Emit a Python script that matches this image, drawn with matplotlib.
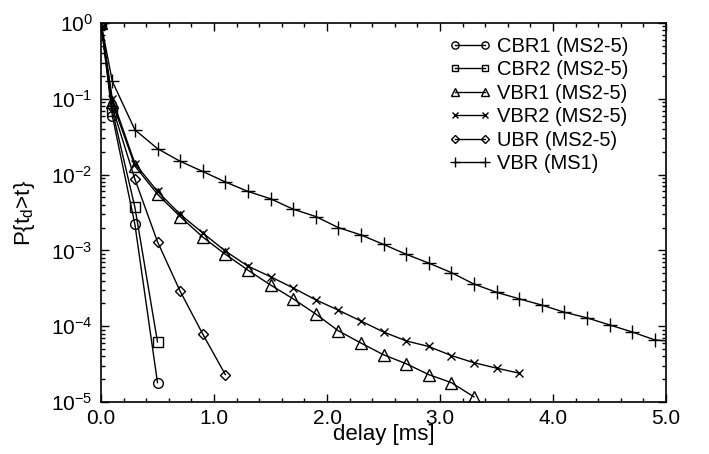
import numpy as np
import matplotlib
matplotlib.use('Agg')
import matplotlib.pyplot as plt
from matplotlib.ticker import MultipleLocator, LogLocator

plt.rcParams['font.family'] = ['Liberation Sans', 'DejaVu Sans']
plt.rcParams['mathtext.default'] = 'regular'

# delay [ms] and P{td>t}
cbr1_x = [0.0, 0.1, 0.3, 0.5]
cbr1_y = [1.0, 0.060, 0.0022, 1.8e-5]

cbr2_x = [0.0, 0.1, 0.3, 0.5]
cbr2_y = [1.0, 0.070, 0.0037, 6.2e-5]

vbr1_x = [0.0, 0.1, 0.3, 0.5, 0.7, 0.9, 1.1, 1.3, 1.5, 1.7, 1.9, 2.1, 2.3, 2.5, 2.7, 2.9, 3.1, 3.3]
vbr1_y = [1.0, 0.090, 0.013, 0.0055, 0.0028, 0.0015, 8.9e-4, 5.5e-4, 3.5e-4, 2.3e-4,
          1.45e-4, 8.7e-5, 6.0e-5, 4.2e-5, 3.2e-5, 2.3e-5, 1.8e-5, 1.17e-5]

vbr2_x = [0.0, 0.1, 0.3, 0.5, 0.7, 0.9, 1.1, 1.3, 1.5, 1.7, 1.9, 2.1, 2.3, 2.5, 2.7, 2.9, 3.1, 3.3, 3.5, 3.7]
vbr2_y = [1.0, 0.100, 0.014, 0.0060, 0.0030, 0.0017, 9.8e-4, 6.2e-4, 4.5e-4, 3.2e-4,
          2.23e-4, 1.63e-4, 1.17e-4, 8.4e-5, 6.4e-5, 5.4e-5, 4.1e-5, 3.3e-5, 2.8e-5, 2.4e-5]

ubr_x = [0.0, 0.1, 0.3, 0.5, 0.7, 0.9, 1.1]
ubr_y = [1.0, 0.078, 0.0087, 0.0013, 2.9e-4, 7.9e-5, 2.3e-5]

vbr_ms1_x = [0.0, 0.1, 0.3, 0.5, 0.7, 0.9, 1.1, 1.3, 1.5, 1.7, 1.9, 2.1, 2.3, 2.5, 2.7,
             2.9, 3.1, 3.3, 3.5, 3.7, 3.9, 4.1, 4.3, 4.5, 4.7, 4.9, 5.1]
vbr_ms1_y = [1.0, 0.17, 0.039, 0.022, 0.015, 0.011, 0.0080, 0.0060, 0.0048, 0.0035,
             0.0028, 0.0020, 0.0016, 0.0012, 8.9e-4, 6.8e-4, 5.1e-4, 3.6e-4, 2.8e-4,
             2.3e-4, 1.9e-4, 1.53e-4, 1.29e-4, 1.04e-4, 8.4e-5, 6.6e-5, 6.2e-5]

series = [
    ('CBR1 (MS2-5)', cbr1_x, cbr1_y, 'o', 7),
    ('CBR2 (MS2-5)', cbr2_x, cbr2_y, 's', 6.5),
    ('VBR1 (MS2-5)', vbr1_x, vbr1_y, '^', 8),
    ('VBR2 (MS2-5)', vbr2_x, vbr2_y, 'x', 6),
    ('UBR (MS2-5)', ubr_x, ubr_y, 'D', 5.5),
    ('VBR (MS1)', vbr_ms1_x, vbr_ms1_y, '+', 10),
]

fig = plt.figure(figsize=(7.09, 4.54), dpi=100)
ax = fig.add_axes([101 / 709, 52 / 454, 565 / 709, 379 / 454])

for label, xs, ys, marker, ms in series:
    ax.plot(xs, ys, color='black', lw=1.0, marker=marker, markersize=ms,
            markerfacecolor='none', markeredgecolor='black', markeredgewidth=1.0,
            label=label)

ax.set_yscale('log')
ax.set_xlim(0, 5.0)
ax.set_ylim(1e-5, 1.0)

ax.xaxis.set_major_locator(MultipleLocator(1.0))
ax.xaxis.set_minor_locator(MultipleLocator(0.2))
ax.xaxis.set_major_formatter(plt.FuncFormatter(lambda v, p: f'{v:.1f}'))
ax.yaxis.set_major_locator(LogLocator(base=10, numticks=10))
ax.yaxis.set_minor_locator(LogLocator(base=10, subs=np.arange(2, 10), numticks=10))

ax.tick_params(which='both', direction='in', top=True, right=True, labelsize=15,
               width=1.0)
ax.tick_params(which='major', length=6)
ax.tick_params(which='minor', length=3)
ax.tick_params(axis='x', pad=5)
ax.tick_params(axis='y', pad=6)
for sp in ax.spines.values():
    sp.set_linewidth(1.2)

ax.set_xlabel('delay [ms]', fontsize=16, labelpad=-3)
ax.set_ylabel(r'P{t$_d$>t}', fontsize=16, labelpad=10)

ax.legend(loc='upper right', bbox_to_anchor=(0.955, 0.995), frameon=False,
          fontsize=14.5, numpoints=2, markerscale=0.75, handlelength=2.1,
          handletextpad=0.3, labelspacing=0.22, borderaxespad=0.2)

fig.savefig('out.png', dpi=100)
